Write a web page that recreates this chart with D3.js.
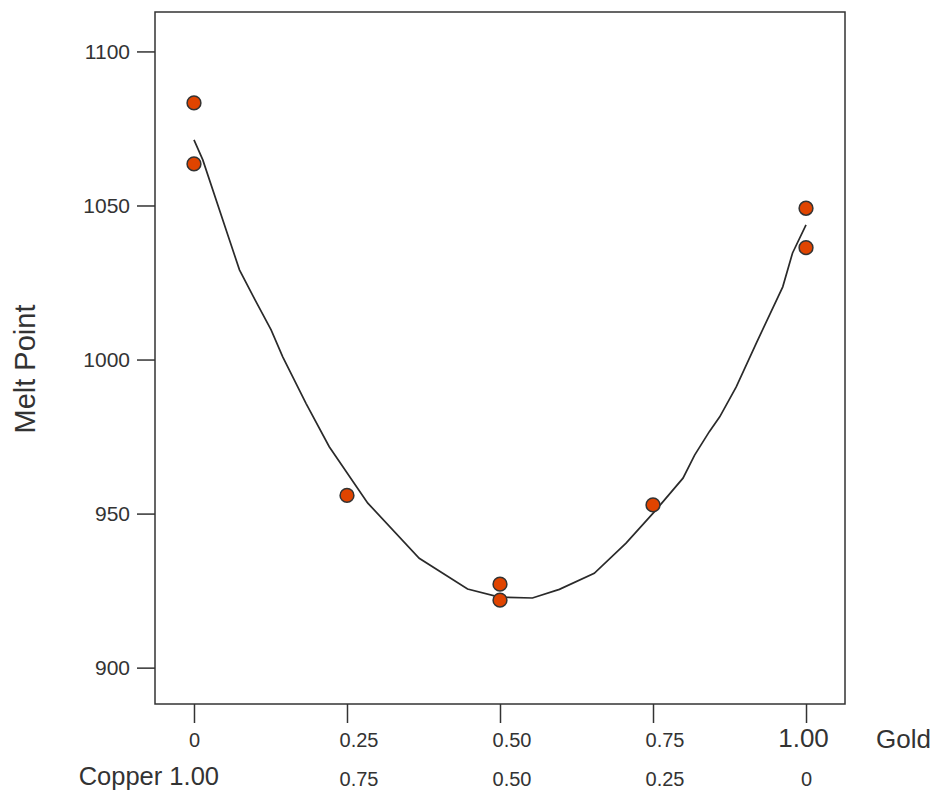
<!DOCTYPE html>
<html>
<head>
<meta charset="utf-8">
<script src="https://cdn.jsdelivr.net/npm/d3@7"></script>
<style>
  html, body { margin: 0; padding: 0; background: #fff; }
  text { font-family: "Liberation Sans", Arial, sans-serif; fill: #333; }
</style>
</head>
<body>
<svg id="chart" width="932" height="790"></svg>
<script>
// ---- data ----
const goldFraction = [0, 0, 0.25, 0.5, 0.5, 0.75, 1, 1];
const meltPoint    = [1083.3, 1063.5, 955.9, 927.1, 921.9, 952.8, 1049.1, 1036.3];

const fitX = [0, 0.0144, 0.058, 0.0743, 0.1, 0.126, 0.145, 0.164, 0.183, 0.221, 0.284, 0.368, 0.447, 0.499, 0.553, 0.597, 0.654, 0.706, 0.755, 0.799, 0.818, 0.842, 0.859, 0.886, 0.919, 0.962, 0.978, 1.0];
const fitY = [1071.3, 1064.8, 1038.8, 1029.1, 1019.3, 1009.6, 1000.9, 993.3, 985.8, 971.7, 953.4, 935.5, 925.5, 922.9, 922.6, 925.4, 930.6, 940.4, 951.2, 961.5, 969.0, 976.6, 981.4, 991.1, 1005.4, 1023.6, 1034.6, 1043.7];

const xTicks = [0, 0.25, 0.5, 0.75, 1];
const goldLabels = ["0", "0.25", "0.50", "0.75", "1.00"];
const copperLabels = ["1.00", "0.75", "0.50", "0.25", "0"];
const yTicks = [900, 950, 1000, 1050, 1100];

// ---- layout ----
const svg = d3.select("#chart");
const L = 155, R = 845, T = 12, B = 704;
const x = d3.scaleLinear().domain([-0.0637, 1.0637]).range([L, R]);
const y = d3.scaleLinear().domain([888.2, 1112.8]).range([B, T]);

// frame
svg.append("rect")
  .attr("x", L).attr("y", T).attr("width", R - L).attr("height", B - T)
  .attr("fill", "none").attr("stroke", "#333").attr("stroke-width", 1.5);

// y axis
const yAxis = svg.append("g").attr("transform", `translate(${L},0)`)
  .call(d3.axisLeft(y).tickValues(yTicks).tickSize(18).tickPadding(7).tickFormat(d3.format("d")));
yAxis.select(".domain").remove();
yAxis.selectAll(".tick line").attr("stroke", "#333").attr("stroke-width", 1.5);
yAxis.selectAll(".tick text").attr("font-size", 21).attr("fill", "#333")
  .style("font-family", '"Liberation Sans", Arial, sans-serif');

// x axis
const xAxis = svg.append("g").attr("transform", `translate(0,${B})`)
  .call(d3.axisBottom(x).tickValues(xTicks).tickSize(19).tickFormat(""));
xAxis.select(".domain").remove();
xAxis.selectAll(".tick line").attr("stroke", "#333").attr("stroke-width", 1.5);

// top row (Gold)
svg.append("g").selectAll("text").data(xTicks).join("text")
  .attr("x", (d, i) => x(d) + ((i === 0) ? 0.5 : (i === 4 ? -2.5 : 12)))
  .attr("y", 747)
  .attr("text-anchor", "middle")
  .attr("font-size", (d, i) => i === 4 ? 26 : 20)
  .text((d, i) => goldLabels[i]);

svg.append("text").attr("x", 876).attr("y", 748).attr("font-size", 26).text("Gold");

// second row (Copper)
svg.append("g").selectAll("text").data(xTicks).join("text")
  .filter((d, i) => i > 0)
  .attr("x", (d, i) => x(d) + (i === 3 ? 0.5 : 12))
  .attr("y", 785.5)
  .attr("text-anchor", "middle")
  .attr("font-size", 20)
  .text((d, i) => copperLabels[i + 1]);

svg.append("text").attr("x", 219).attr("y", 784.5).attr("text-anchor", "end")
  .attr("font-size", 25.5).text("Copper " + copperLabels[0]);

// y title
svg.append("text")
  .attr("transform", "translate(35,369) rotate(-90)")
  .attr("text-anchor", "middle").attr("font-size", 29).text("Melt Point");

// fit line
const fit = fitX.map((v, i) => [v, fitY[i]]);
svg.append("path").datum(fit)
  .attr("fill", "none").attr("stroke", "#2a2a2a").attr("stroke-width", 1.7)
  .attr("d", d3.line().x(d => x(d[0])).y(d => y(d[1])));

// points
svg.append("g").selectAll("circle").data(goldFraction).join("circle")
  .attr("cx", d => x(d))
  .attr("cy", (d, i) => y(meltPoint[i]))
  .attr("r", 6.9)
  .attr("fill", "#e04400")
  .attr("stroke", "#333").attr("stroke-width", 1.5);
</script>
</body>
</html>
